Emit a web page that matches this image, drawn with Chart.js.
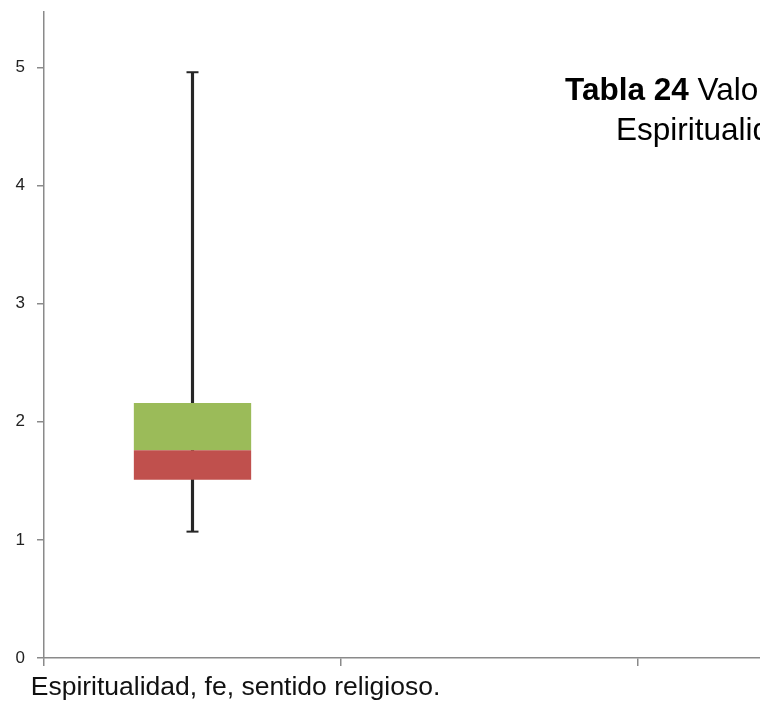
<!DOCTYPE html>
<html><head><meta charset="utf-8">
<script src="https://cdn.jsdelivr.net/npm/chart.js@4.4.1/dist/chart.umd.min.js"></script>
<style>
html,body{margin:0;padding:0;background:#fff;overflow:hidden;width:760px;height:708px;position:relative;}
#wrap{position:absolute;left:0;top:0;width:945px;height:708px;}
.cap{position:absolute;font-family:"Liberation Sans",Arial,sans-serif;font-size:31.5px;line-height:31px;color:#000;white-space:nowrap;}
</style></head><body>
<div id="wrap"><canvas id="c"></canvas></div>
<div class="cap" style="left:565px;top:74px"><b>Tabla 24</b> Valores</div>
<div class="cap" style="left:616px;top:114px">Espiritualidad</div>
<script>
const categories = ['Espiritualidad, fe, sentido religioso.', '', ''];
const minValues = [1.07, null, null];
const q1Values = [1.51, null, null];
const medianValues = [1.76, null, null];
const q3Values = [2.16, null, null];
const maxValues = [4.96, null, null];
const yTicks = [0, 1, 2, 3, 4, 5];

const pair = (a, b) => a.map((v, i) => (v == null || b[i] == null) ? null : [v, b[i]]);
const AXIS = '#8a8a8a';

new Chart(document.getElementById('c'), {
  type: 'bar',
  data: {
    labels: categories,
    datasets: [
      { data: pair(q1Values, medianValues), backgroundColor: '#C0504D', borderWidth: 0,
        grouped: false, categoryPercentage: 1, barPercentage: 0.395, order: 0 },
      { data: pair(medianValues, q3Values), backgroundColor: '#9BBB59', borderWidth: 0,
        grouped: false, categoryPercentage: 1, barPercentage: 0.395, order: 0 },
      { data: pair(minValues, maxValues), backgroundColor: '#262626', borderWidth: 0,
        grouped: false, barThickness: 2.5, order: 2 },
      { type: 'line', data: maxValues, showLine: false, pointStyle: 'line', pointRadius: 6,
        pointHoverRadius: 6, pointBorderWidth: 2, borderColor: '#262626', order: 1 },
      { type: 'line', data: minValues, showLine: false, pointStyle: 'line', pointRadius: 6,
        pointHoverRadius: 6, pointBorderWidth: 2, borderColor: '#262626', order: 1 }
    ]
  },
  options: {
    responsive: true, maintainAspectRatio: false, animation: false,
    layout: { padding: { top: 12, right: 10, left: 0, bottom: 0 } },
    plugins: { legend: { display: false }, tooltip: { enabled: false } },
    scales: {
      x: {
        offset: true,
        grid: { offset: true, drawOnChartArea: false, drawTicks: true, tickLength: 8, color: AXIS, lineWidth: 1.5 },
        border: { color: AXIS, width: 1.5 },
        ticks: { padding: 6, labelOffset: 43, maxRotation: 0, autoSkip: false, color: '#111',
          font: { family: '"Liberation Sans",Arial,sans-serif', size: 26.5 } },
        afterFit: s => { s.height = 50; s.paddingLeft = 0; s.paddingRight = 0; }
      },
      y: {
        min: 0, max: 5.47, bounds: 'data',
        grid: { drawOnChartArea: false, drawTicks: true, tickLength: 7, color: AXIS, lineWidth: 1.5 },
        border: { color: AXIS, width: 1.5 },
        ticks: { stepSize: 1, includeBounds: false, padding: 12, color: '#222',
          font: { family: '"Liberation Sans",Arial,sans-serif', size: 17 } },
        afterBuildTicks: s => { s.ticks = yTicks.map(v => ({ value: v })); },
        afterFit: s => { s.width = 44; s.paddingTop = 0; s.paddingBottom = 0; }
      }
    }
  }
});
</script>
</body></html>
